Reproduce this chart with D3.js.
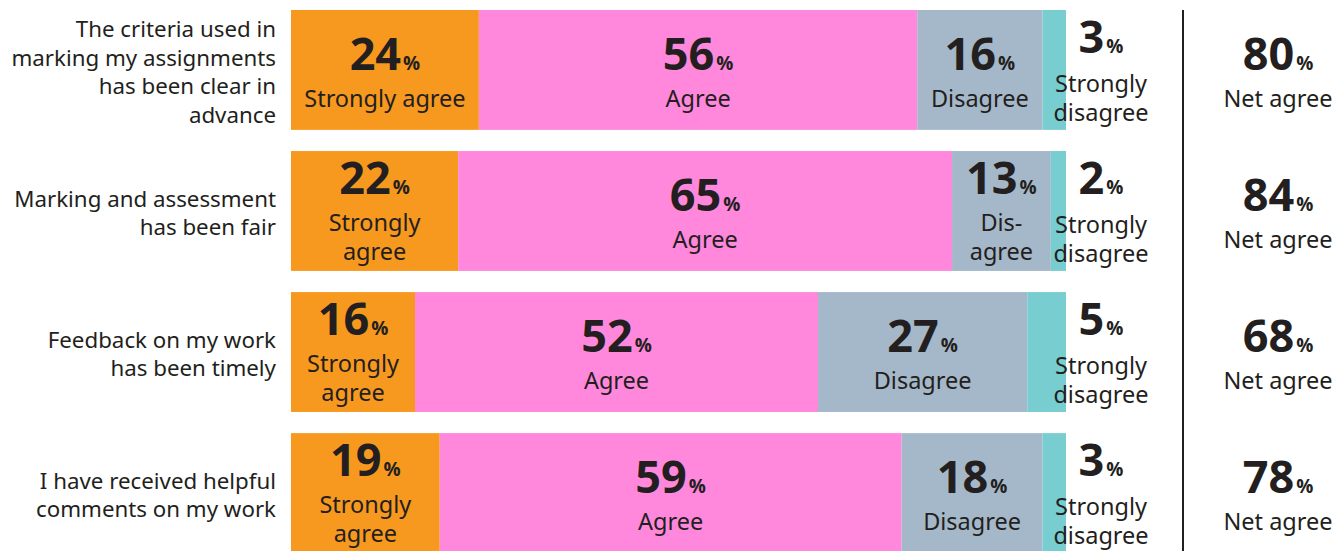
<!DOCTYPE html>
<html>
<head>
<meta charset="utf-8">
<script src="https://cdn.jsdelivr.net/npm/d3@7"></script>
<style>
  body { margin: 0; background: #fff; }
  text { fill: #231F20; }
  .q { font-family: "Noto Sans", sans-serif; font-size: 22.3px; }
  .lab { font-family: "Noto Sans", sans-serif; font-size: 23.5px; }
  .num { font-family: "Open Sans", sans-serif; font-weight: 700; font-size: 45px; }
  .pct { font-family: "Open Sans", sans-serif; font-weight: 700; font-size: 19px; }
</style>
</head>
<body>
<svg id="chart" width="1340" height="551"></svg>
<script>
// Survey responses, one row per statement
const questions = [
    ["The criteria used in", "marking my assignments", "has been clear in", "advance"],
    ["Marking and assessment", "has been fair"],
    ["Feedback on my work", "has been timely"],
    ["I have received helpful", "comments on my work"]
];
const categories = ["Strongly agree", "Agree", "Disagree", "Strongly disagree"];
const stronglyAgree = [24, 22, 16, 19];
const agree = [56, 65, 52, 59];
const disagree = [16, 13, 27, 18];
const stronglyDisagree = [3, 2, 5, 3];
const netAgree = [80, 84, 68, 78];

const colors = ["#F7991F", "#FF88DD", "#A5B8C9", "#77CDCF"];
// wrapped forms for narrow segments
const wrapped = {
    "Strongly agree": ["Strongly", "agree"],
    "Agree": ["Agree"],
    "Disagree": ["Dis-", "agree"],
    "Strongly disagree": ["Strongly", "disagree"]
};

const rows = questions.map((q, i) => ({
    id: i,
    "Strongly agree": stronglyAgree[i],
    "Agree": agree[i],
    "Disagree": disagree[i],
    "Strongly disagree": stronglyDisagree[i]
}));

const svg = d3.select('#chart');

const x = d3.scaleLinear().domain([0, 1]).range([291, 1066]);
const y = d3.scaleBand()
    .domain(rows.map(d => d.id))
    .range([10, 553])
    .paddingInner(0.15);

const series = d3.stack()
    .keys(categories)
    .offset(d3.stackOffsetExpand)(rows);

// bars
const layers = svg.selectAll('.layer')
    .data(series)
    .enter().append('g')
    .attr('class', 'layer')
    .attr('fill', (d, i) => colors[i]);

layers.selectAll('rect')
    .data(d => d.map(v => ({ v, key: d.key })))
    .enter().append('rect')
    .attr('x', d => x(d.v[0]))
    .attr('y', d => y(d.v.data.id))
    .attr('width', d => x(d.v[1]) - x(d.v[0]))
    .attr('height', y.bandwidth());

function addNumber(g, cx, baseline, value) {
    const t = g.append('text')
        .attr('x', cx)
        .attr('y', baseline)
        .attr('text-anchor', 'middle');
    t.append('tspan').attr('class', 'num').text(value);
    t.append('tspan').attr('class', 'pct').attr('dx', 2).text('%');
}

// segment labels
const labelG = svg.append('g');
series.forEach((s, si) => {
    s.forEach(v => {
        const top = y(v.data.id);
        const x0 = x(v[0]), x1 = x(v[1]);
        const w = x1 - x0;
        const value = v.data[s.key];

        if (s.key === "Strongly disagree") {
            // sits outside, right of the bar
            const cx = x(1) + 35;
            addNumber(labelG, cx, top + 43, value);
            wrapped[s.key].forEach((line, li) => {
                labelG.append('text').attr('class', 'lab')
                    .attr('x', cx).attr('y', top + 82 + li * 29)
                    .attr('text-anchor', 'middle').text(line);
            });
            return;
        }

        const cx = (x0 + x1) / 2;
        const probe = labelG.append('text').attr('class', 'lab').text(s.key);
        const tw = probe.node().getComputedTextLength();
        probe.remove();

        if (tw + 8 < w) {
            addNumber(labelG, cx, top + 60, value);
            labelG.append('text').attr('class', 'lab')
                .attr('x', cx).attr('y', top + 97)
                .attr('text-anchor', 'middle').text(s.key);
        } else {
            addNumber(labelG, cx, top + 43, value);
            wrapped[s.key].forEach((line, li) => {
                labelG.append('text').attr('class', 'lab')
                    .attr('x', cx).attr('y', top + 80 + li * 29)
                    .attr('text-anchor', 'middle').text(line);
            });
        }
    });
});

// question labels
questions.forEach((lines, i) => {
    const mid = y(i) + y.bandwidth() / 2;
    const lh = 28.7;
    lines.forEach((line, li) => {
        svg.append('text').attr('class', 'q')
            .attr('x', 276)
            .attr('y', mid + 10 + (li - (lines.length - 1) / 2) * lh)
            .attr('text-anchor', 'end')
            .text(line);
    });
});

// divider
svg.append('line')
    .attr('x1', 1183).attr('x2', 1183)
    .attr('y1', 10).attr('y2', 551)
    .attr('stroke', '#231F20')
    .attr('stroke-width', 2);

// net agree column
netAgree.forEach((v, i) => {
    const top = y(i);
    addNumber(svg, 1278, top + 60, v);
    svg.append('text').attr('class', 'lab')
        .attr('x', 1278).attr('y', top + 97)
        .attr('text-anchor', 'middle').text('Net agree');
});
</script>
</body>
</html>
